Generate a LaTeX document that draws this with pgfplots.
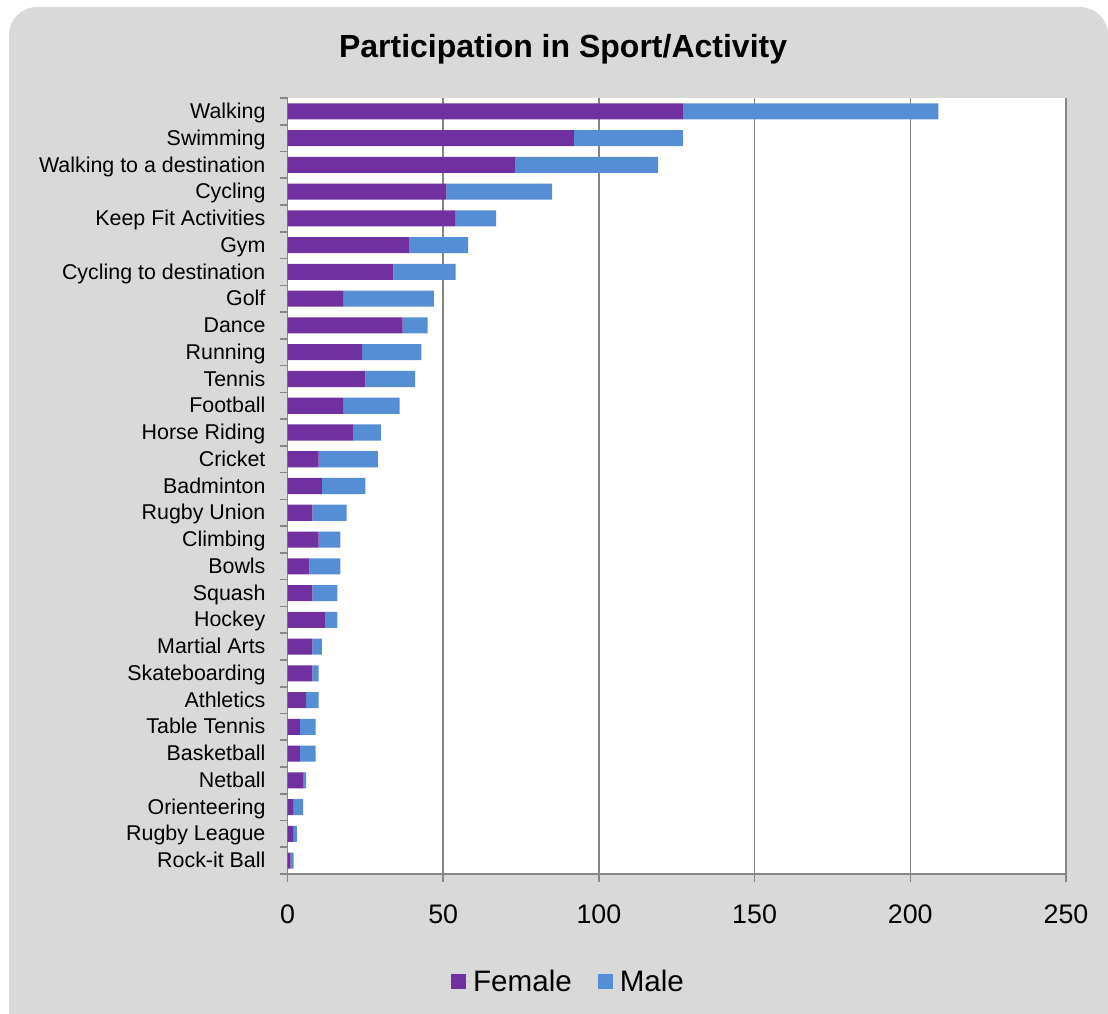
\documentclass[border=0pt]{standalone}
\usepackage{pgfplots}
\usepackage{pgfplotstable}
\pgfplotsset{compat=1.18}
\usepackage{fontspec}
\setmainfont{Liberation Sans}

\definecolor{female}{HTML}{7030A0}
\definecolor{male}{HTML}{558ED5}
\definecolor{panel}{HTML}{D9D9D9}
\definecolor{rule}{HTML}{868686}

% participants per activity, in display order (top to bottom)
\pgfplotstableread{
idx female male
0  127 82
1  92  35
2  73  46
3  51  34
4  54  13
5  39  19
6  34  20
7  18  29
8  37  8
9  24  19
10 25  16
11 18  18
12 21  9
13 10  19
14 11  14
15 8   11
16 10  7
17 7   10
18 8   8
19 12  4
20 8   3
21 8   2
22 6   4
23 4   5
24 4   5
25 5   1
26 2   3
27 2   1
28 1   1
}\sportdata

\pgfplotsset{
  sq/.style={legend image code/.code={%
    \fill[##1] (1pt,-3.75pt) rectangle (8.5pt,3.75pt);
    \path (0pt,0pt) -- (10pt,0pt);}},
}

\begin{document}
\begin{tikzpicture}
\useasboundingbox (0,0) rectangle (554pt,506.5pt);
\clip (0,0) rectangle (554pt,506.5pt);
\fill[white] (0,0) rectangle (554pt,506.5pt);
\fill[panel, rounded corners=14pt] (4.5pt,-30pt) rectangle (554pt,503pt);

\begin{axis}[
  at={(143.75pt,69.5pt)}, anchor=south west,
  scale only axis,
  width=389.25pt, height=388pt,
  xbar stacked,
  bar width=0.6,
  y dir=reverse,
  xmin=0, xmax=250,
  ymin=-0.5, ymax=28.5,
  axis background/.style={fill=white},
  axis lines*=left,
  axis line style={rule, line width=0.8pt},
  xtick={0,50,100,150,200,250},
  xmajorgrids,
  grid style={rule, line width=0.75pt},
  ytick={0,...,28},
  yticklabels={Walking, Swimming, Walking to a destination, Cycling,
    Keep Fit Activities, Gym, Cycling to destination, Golf, Dance,
    Running, Tennis, Football, Horse Riding, Cricket, Badminton,
    Rugby Union, Climbing, Bowls, Squash, Hockey, Martial Arts,
    Skateboarding, Athletics, Table Tennis, Basketball, Netball,
    Orienteering, Rugby League, Rock-it Ball},
  minor ytick={-0.5,0.5,...,28.5},
  tick align=outside,
  major tick length=4pt,
  minor tick length=3.5pt,
  major y tick style={draw=none},
  minor y tick style={rule, line width=0.8pt},
  major x tick style={rule, line width=0.8pt},
  /pgf/number format/assume math mode=true,
  yticklabel style={font=\fontsize{10.7}{13}\selectfont, xshift=-3.5pt,
    yshift=-1pt, text height=0.72em, text depth=0.21em},
  xticklabel style={font=\fontsize{13.4}{15}\selectfont, yshift=-8pt},
  title={\textbf{Participation in Sport/Activity}},
  title style={font=\fontsize{16}{19}\selectfont, at={(0.354,1)},
    anchor=base, yshift=14.5pt},
  legend columns=2,
  legend style={at={(0.361,-0.139)}, anchor=center, draw=none, fill=none,
    font=\fontsize{14.8}{17}\selectfont,
    /tikz/every even column/.append style={column sep=10pt}},
]
\addplot[fill=female, draw=none, sq] table[x=female, y=idx] {\sportdata};
\addlegendentry{Female}
\addplot[fill=male, draw=none, sq] table[x=male, y=idx] {\sportdata};
\addlegendentry{Male}
\end{axis}
\end{tikzpicture}
\end{document}
